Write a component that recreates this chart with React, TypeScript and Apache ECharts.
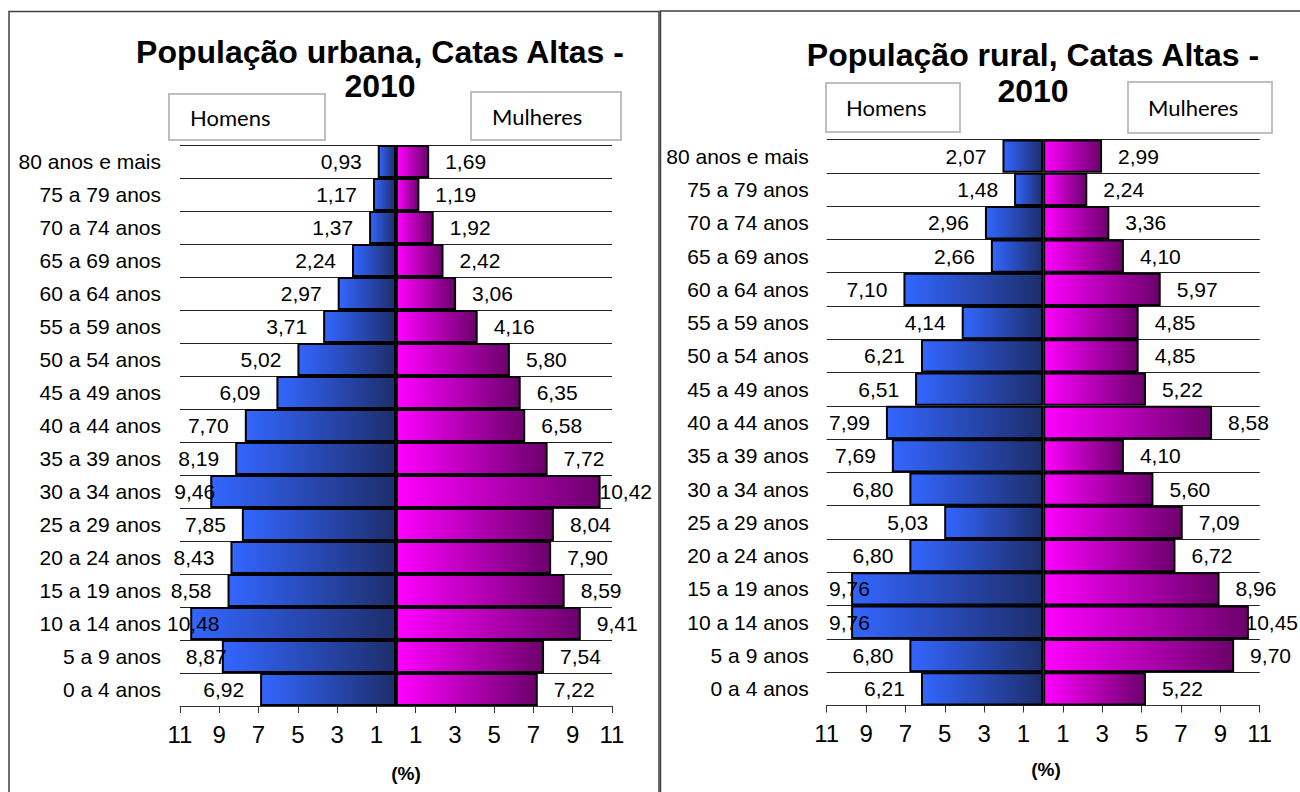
import React, { useEffect, useRef } from 'react';
import * as echarts from 'echarts';

const ageGroups = [
  '80 anos e mais', '75 a 79 anos', '70 a 74 anos', '65 a 69 anos', '60 a 64 anos',
  '55 a 59 anos', '50 a 54 anos', '45 a 49 anos', '40 a 44 anos', '35 a 39 anos',
  '30 a 34 anos', '25 a 29 anos', '20 a 24 anos', '15 a 19 anos', '10 a 14 anos',
  '5 a 9 anos', '0 a 4 anos',
];
const urbanMen = [0.93, 1.17, 1.37, 2.24, 2.97, 3.71, 5.02, 6.09, 7.70, 8.19, 9.46, 7.85, 8.43, 8.58, 10.48, 8.87, 6.92];
const urbanWomen = [1.69, 1.19, 1.92, 2.42, 3.06, 4.16, 5.80, 6.35, 6.58, 7.72, 10.42, 8.04, 7.90, 8.59, 9.41, 7.54, 7.22];
const ruralMen = [2.07, 1.48, 2.96, 2.66, 7.10, 4.14, 6.21, 6.51, 7.99, 7.69, 6.80, 5.03, 6.80, 9.76, 9.76, 6.80, 6.21];
const ruralWomen = [2.99, 2.24, 3.36, 4.10, 5.97, 4.85, 4.85, 5.22, 8.58, 4.10, 5.60, 7.09, 6.72, 8.96, 10.45, 9.70, 5.22];
const xTickLabels = ['11', '9', '7', '5', '3', '1', '1', '3', '5', '7', '9', '11'];
const urbanTitle = 'População urbana, Catas Altas -\n2010';
const ruralTitle = 'População rural, Catas Altas -\n2010';
const menLabel = 'Homens';
const womenLabel = 'Mulheres';
const unitLabel = '(%)';

const FONT = '"Liberation Sans", Arial, Helvetica, sans-serif';
const BOX_FONT = 'Lato, "Open Sans", sans-serif';
const LABEL_FS = 21;
const AXIS_MAX = 11;

function fmt(v: number) {
  return Math.abs(v).toFixed(2).replace('.', ',');
}

let measureCtx: CanvasRenderingContext2D | null = null;
function textWidth(s: string, fs: number) {
  if (!measureCtx) measureCtx = document.createElement('canvas').getContext('2d');
  if (!measureCtx) return s.length * fs * 0.55;
  measureCtx.font = `${fs}px "Liberation Sans", Arial, sans-serif`;
  return measureCtx.measureText(s).width;
}

interface PanelGeom {
  left: number;
  top: number;
  width: number;
  height: number;
  clampMin: number;
  clampMax: number;
}

const geomUrban: PanelGeom = { left: 180, top: 145, width: 432, height: 561, clampMin: 167, clampMax: 652 };
const geomRural: PanelGeom = { left: 826.7, top: 139.5, width: 433, height: 566, clampMin: 829, clampMax: 1298 };

function menItems(values: number[], g: PanelGeom) {
  const ppu = g.width / (2 * AXIS_MAX);
  const cx = g.left + g.width / 2;
  return values.map((v) => {
    const edge = cx - v * ppu;
    const w = textWidth(fmt(v), LABEL_FS);
    const natRight = edge - 16;
    let dx = 0;
    if (natRight - w < g.clampMin) {
      const newLeft = Math.max(edge - 36, g.clampMin);
      dx = newLeft + w - natRight;
    }
    return { value: -v, label: { offset: [dx, 0] } };
  });
}

function womenItems(values: number[], g: PanelGeom) {
  const ppu = g.width / (2 * AXIS_MAX);
  const cx = g.left + g.width / 2;
  return values.map((v) => {
    const edge = cx + v * ppu;
    const w = textWidth(fmt(v), LABEL_FS);
    const natLeft = edge + 16;
    let dx = 0;
    if (natLeft + w > g.clampMax) {
      dx = g.clampMax - w - natLeft;
    }
    return { value: v, label: { offset: [dx, 0] } };
  });
}

const blueGrad = () =>
  new echarts.graphic.LinearGradient(0, 0, 1, 0, [
    { offset: 0, color: '#3366FF' },
    { offset: 1, color: '#1E2E6C' },
  ]);
const pinkGrad = () =>
  new echarts.graphic.LinearGradient(0, 0, 1, 0, [
    { offset: 0, color: '#FF00FF' },
    { offset: 1, color: '#6C006C' },
  ]);

function axesFor(gi: number, labelMargin: number) {
  const xAxes = [
    { gridIndex: gi, type: 'value', min: -AXIS_MAX, max: AXIS_MAX, show: false, position: 'top' },
    {
      gridIndex: gi,
      type: 'value',
      min: 0,
      max: 22,
      interval: 2,
      position: 'bottom',
      axisLine: { show: true, lineStyle: { color: '#333', width: 1 } },
      axisTick: { show: true, length: 7, lineStyle: { color: '#333', width: 1 } },
      axisLabel: {
        formatter: (v: number) => xTickLabels[Math.round(v / 2)],
        fontSize: 24,
        margin: 16,
        color: '#000',
        fontFamily: FONT,
      },
      splitLine: { show: false },
    },
  ];
  const yAxis = {
    gridIndex: gi,
    type: 'category',
    inverse: true,
    data: ageGroups,
    axisLine: { show: false },
    axisTick: { show: false },
    axisLabel: { fontSize: 21, margin: labelMargin, color: '#000', fontFamily: FONT },
    splitLine: { show: true, lineStyle: { color: '#222', width: 1 } },
  };
  return { xAxes, yAxis };
}

function seriesFor(gi: number, men: number[], women: number[], g: PanelGeom) {
  const labelBase = { show: true, fontSize: LABEL_FS, color: '#000', fontFamily: FONT, distance: 16 };
  return [
    {
      type: 'bar',
      name: menLabel,
      xAxisIndex: gi * 2,
      yAxisIndex: gi,
      data: menItems(men, g),
      barGap: '-100%',
      barCategoryGap: 0,
      itemStyle: { color: blueGrad(), borderColor: '#000', borderWidth: 2 },
      label: { ...labelBase, position: 'left', formatter: (p: any) => fmt(p.value) },
    },
    {
      type: 'bar',
      name: womenLabel,
      xAxisIndex: gi * 2,
      yAxisIndex: gi,
      data: womenItems(women, g),
      barGap: '-100%',
      barCategoryGap: 0,
      itemStyle: { color: pinkGrad(), borderColor: '#000', borderWidth: 2 },
      label: { ...labelBase, position: 'right', formatter: (p: any) => fmt(p.value) },
    },
  ];
}

function box(x: number, y: number, w: number, h: number, text: string, tx: number) {
  return [
    {
      type: 'rect',
      shape: { x, y, width: w, height: h },
      style: { fill: '#fff', stroke: '#BFBFBF', lineWidth: 2 },
      z: 10,
    },
    {
      type: 'text',
      x: tx,
      y: y + h / 2,
      style: { text, fill: '#000', font: `22px ${BOX_FONT}`, align: 'left', verticalAlign: 'middle' },
      z: 11,
    },
  ];
}

export default function App() {
  const ref = useRef<HTMLDivElement>(null);
  useEffect(() => {
    if (!ref.current) return;
    const chart = echarts.init(ref.current, undefined, { renderer: 'svg' });
    const a0 = axesFor(0, 19);
    const a1 = axesFor(1, 18);
    const option: any = {
      animation: false,
      backgroundColor: '#fff',
      grid: [
        { left: geomUrban.left, top: geomUrban.top, width: geomUrban.width, height: geomUrban.height },
        { left: geomRural.left, top: geomRural.top, width: geomRural.width, height: geomRural.height },
      ],
      xAxis: [...a0.xAxes, ...a1.xAxes],
      yAxis: [a0.yAxis, a1.yAxis],
      series: [
        ...seriesFor(0, urbanMen, urbanWomen, geomUrban),
        ...seriesFor(1, ruralMen, ruralWomen, geomRural),
      ],
      graphic: [
        {
          type: 'rect',
          shape: { x: 9, y: 11.5, width: 650, height: 900 },
          style: { fill: 'none', stroke: '#404040', lineWidth: 1.5 },
          silent: true,
        },
        {
          type: 'rect',
          shape: { x: 660.5, y: 11, width: 800, height: 900 },
          style: { fill: 'none', stroke: '#404040', lineWidth: 1.5 },
          silent: true,
        },
        {
          type: 'text',
          x: 380,
          y: 35,
          style: {
            text: urbanTitle,
            fill: '#000',
            font: `bold 32px ${FONT}`,
            align: 'center',
            verticalAlign: 'top',
            lineHeight: 34,
          },
          z: 12,
        },
        {
          type: 'text',
          x: 1033,
          y: 37,
          style: {
            text: ruralTitle,
            fill: '#000',
            font: `bold 32px ${FONT}`,
            align: 'center',
            verticalAlign: 'top',
            lineHeight: 36,
          },
          z: 12,
        },
        ...box(169, 94, 156, 46, menLabel, 190),
        ...box(471, 92, 150, 48, womenLabel, 492),
        ...box(826, 83, 134, 49, menLabel, 846),
        ...box(1128, 82, 144, 51, womenLabel, 1148),
        {
          type: 'text',
          x: 406,
          y: 773,
          style: { text: unitLabel, fill: '#000', font: `bold 19px ${FONT}`, align: 'center', verticalAlign: 'middle' },
        },
        {
          type: 'text',
          x: 1046,
          y: 769,
          style: { text: unitLabel, fill: '#000', font: `bold 19px ${FONT}`, align: 'center', verticalAlign: 'middle' },
        },
      ],
    };
    chart.setOption(option);
    return () => chart.dispose();
  }, []);
  return (
    <div
      ref={ref}
      style={{ position: 'absolute', left: 0, top: 0, width: 1300, height: 792, background: '#fff' }}
    />
  );
}
